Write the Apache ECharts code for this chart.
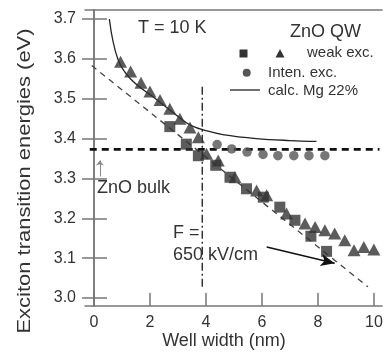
<!DOCTYPE html>
<html><head><meta charset="utf-8">
<script src="https://cdn.jsdelivr.net/npm/echarts@6/dist/echarts.min.js"></script>
<style>html,body{margin:0;padding:0;background:#fff}#c{width:387px;height:353px}</style>
</head><body><div id="c"></div>
<script>
const xTicks = [0, 2, 4, 6, 8, 10];
const yTicks = [3.0, 3.1, 3.2, 3.3, 3.4, 3.5, 3.6, 3.7];
const squares = [[2.71,3.43],[3.3,3.386],[3.73,3.357],[4.35,3.333],[4.86,3.303],[5.45,3.274],[6.05,3.253],[6.64,3.228],[7.18,3.195],[7.75,3.155],[8.31,3.117]];
const triangles = [[0.95,3.593],[1.31,3.568],[1.68,3.54],[2.0,3.518],[2.36,3.497],[2.71,3.475],[3.07,3.45],[3.43,3.428],[3.73,3.403],[4.02,3.362],[4.44,3.345],[5.04,3.303],[5.81,3.27],[6.17,3.258],[6.88,3.212],[7.54,3.187],[7.9,3.178],[8.25,3.17],[8.6,3.162],[8.96,3.145],[9.29,3.12],[9.64,3.128],[10.0,3.122]];
const circles = [[4.4,3.385],[4.92,3.374],[5.47,3.366],[6.04,3.36],[6.57,3.357],[7.14,3.357],[7.68,3.357],[8.25,3.357]];
const calcLine = [[0.55,3.70],[0.85,3.60],[1.3,3.55],[2.2,3.50],[3.1,3.45],[3.5,3.432],[4.0,3.42],[4.6,3.41],[5.8,3.40],[7.0,3.395],[7.95,3.393]];
const fitLine = [[-0.08,3.583],[9.79,3.028]];
const bulkLine = [[-0.15,3.373],[10.2,3.373]];
const wellLine = [[3.87,3.53],[3.87,3.025]];
const fieldArrow = [[6.17,3.128],[8.6,3.087]];
const bulkArrow = [[0.21,3.305],[0.21,3.345]];

const chart = echarts.init(document.getElementById('c'));
const dark = '#333', txt = '#333', frame = '#777';
const FONT = 'Liberation Sans, Arial, sans-serif';
chart.setOption({
  animation: false,
  textStyle: {fontFamily: FONT},
  grid: {left: 85, right: 5, top: 10, bottom: 47},
  xAxis: [{
    type: 'value', min: -0.32, max: 10.29,
    axisLine: {show: true, lineStyle: {color: frame, width: 1.5}},
    axisTick: {show: true, inside: true, length: 13, customValues: xTicks, lineStyle: {color: frame, width: 1.5}},
    axisLabel: {customValues: xTicks, fontSize: 16, color: txt, margin: 9, fontFamily: FONT},
    splitLine: {show: false}
  }, {
    type: 'value', position: 'top', min: -0.32, max: 10.29,
    axisLine: {show: true, lineStyle: {color: frame, width: 1.5}},
    axisTick: {show: false}, axisLabel: {show: false}, splitLine: {show: false}
  }],
  yAxis: [{
    type: 'value', min: 2.98, max: 3.7225,
    axisLine: {show: true, lineStyle: {color: frame, width: 1.5}},
    axisTick: {show: true, inside: true, length: 13, customValues: yTicks, lineStyle: {color: frame, width: 1.5}},
    axisLabel: {customValues: yTicks, fontSize: 16, color: txt, margin: 9, fontFamily: FONT, formatter: v => v.toFixed(1)},
    splitLine: {show: false}
  }, {
    type: 'value', position: 'right', min: 2.98, max: 3.7225,
    axisLine: {show: true, lineStyle: {color: frame, width: 1.5}},
    axisTick: {show: true, inside: true, length: 12, customValues: yTicks, lineStyle: {color: frame, width: 1.5}},
    axisLabel: {show: false}, splitLine: {show: false}
  }],
  series: [
    {type: 'line', data: fitLine, symbol: 'none', lineStyle: {color: '#444', width: 1.3, type: [6, 5]}, z: 1},
    {type: 'line', data: bulkLine, symbol: 'none', lineStyle: {color: '#111', width: 2.8, type: [7, 5]}, z: 1},
    {type: 'line', data: wellLine, symbol: 'none', lineStyle: {color: '#333', width: 1.5, type: [8, 3, 2, 3]}, z: 1},
    {type: 'line', data: calcLine, symbol: 'none', smooth: 0.4, lineStyle: {color: '#222', width: 1.3}, z: 1},
    {type: 'line', data: [], symbol: 'none',
      markLine: {silent: true, symbol: ['none', 'arrow'], symbolSize: [9, 14], label: {show: false},
        lineStyle: {color: '#111', width: 1.5, type: 'solid'},
        data: [[{coord: fieldArrow[0]}, {coord: fieldArrow[1]}]]}},
    {type: 'line', data: [], symbol: 'none',
      markLine: {silent: true, symbol: ['none', 'arrow'], symbolSize: [6, 5], label: {show: false},
        lineStyle: {color: '#888', width: 1, type: 'solid'},
        data: [[{coord: bulkArrow[0]}, {coord: bulkArrow[1]}]]}},
    {type: 'scatter', data: circles, symbol: 'circle', symbolSize: 9.5, itemStyle: {color: '#555'}, z: 3},
    {type: 'scatter', data: squares, symbol: 'rect', symbolSize: 11, itemStyle: {color: dark}, z: 4},
    {type: 'scatter', data: triangles, symbol: 'triangle', symbolSize: [13, 12], itemStyle: {color: dark}, z: 4}
  ],
  graphic: [
    {type: 'text', x: 25, y: 181, rotation: Math.PI / 2, scaleX: 1.22, style: {text: 'Exciton transition energies (eV)', font: '18px ' + FONT, fill: txt, align: 'center', verticalAlign: 'middle'}},
    {type: 'text', x: 224, y: 341, style: {text: 'Well width (nm)', font: '18px ' + FONT, fill: txt, align: 'center', verticalAlign: 'middle'}},
    {type: 'text', x: 138, y: 28, style: {text: 'T = 10 K', font: '18px ' + FONT, fill: txt, verticalAlign: 'middle'}},
    {type: 'text', x: 290, y: 32, style: {text: 'ZnO QW', font: '18px ' + FONT, fill: txt, verticalAlign: 'middle'}},
    {type: 'rect', shape: {x: 239.5, y: 49.5, width: 8, height: 8}, style: {fill: dark}},
    {type: 'polygon', shape: {points: [[280, 49], [284.5, 57.5], [275.5, 57.5]]}, style: {fill: dark}},
    {type: 'text', x: 307, y: 53, style: {text: 'weak exc.', font: '15px ' + FONT, fill: txt, verticalAlign: 'middle'}},
    {type: 'circle', shape: {cx: 246.7, cy: 72.7, r: 4}, style: {fill: '#555'}},
    {type: 'text', x: 268, y: 73, style: {text: 'Inten. exc.', font: '15px ' + FONT, fill: txt, verticalAlign: 'middle'}},
    {type: 'line', shape: {x1: 230, y1: 90, x2: 260, y2: 90}, style: {stroke: '#222', lineWidth: 1.3}},
    {type: 'text', x: 268, y: 91, style: {text: 'calc. Mg 22%', font: '15px ' + FONT, fill: txt, verticalAlign: 'middle'}},
    {type: 'text', x: 97, y: 188, style: {text: 'ZnO bulk', font: '18px ' + FONT, fill: txt, verticalAlign: 'middle'}},
    {type: 'text', x: 173, y: 233, style: {text: 'F =', font: '18px ' + FONT, fill: txt, verticalAlign: 'middle'}},
    {type: 'text', x: 173, y: 255, style: {text: '650 kV/cm', font: '18px ' + FONT, fill: txt, verticalAlign: 'middle'}}
  ]
});
</script></body></html>
